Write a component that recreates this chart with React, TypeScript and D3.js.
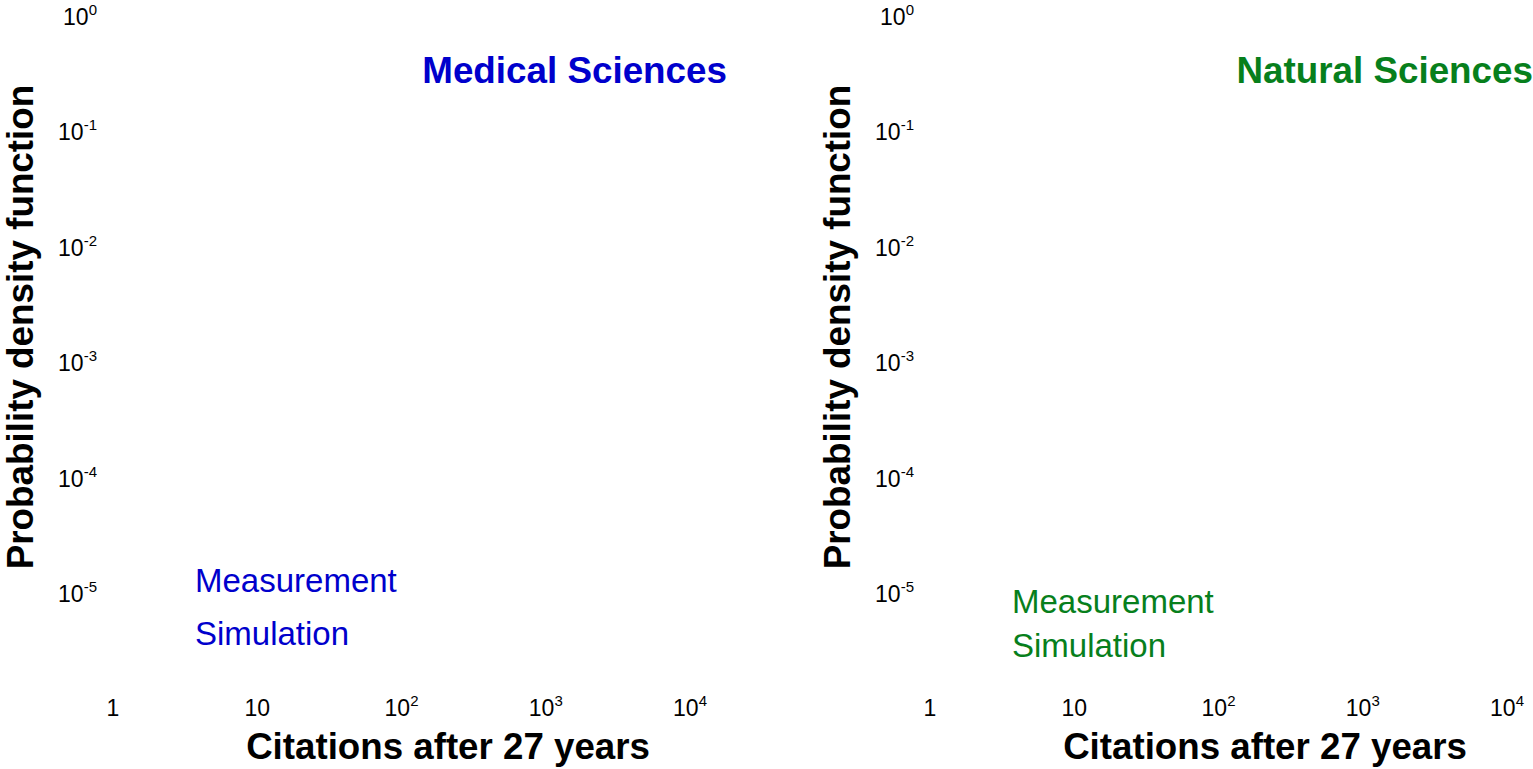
import React from "react";
import * as d3 from "d3";

const xTicks = [1, 10, 100, 1000, 10000];
const yTicks = [1, 1e-1, 1e-2, 1e-3, 1e-4, 1e-5];
const panelTitles = ["Medical Sciences", "Natural Sciences"];
const panelColors = ["#0000CC", "#077F1C"];
const legendLabels = ["Measurement", "Simulation"];
const xTitle = "Citations after 27 years";
const yTitle = "Probability density function";
// No visible data marks in the reference
const measurementSeries: [number, number][] = [];
const simulationSeries: [number, number][] = [];

const FONT = "'Liberation Sans', Arial, Helvetica, sans-serif";

type PanelCfg = { dx: number; titleRight: number; legendY: [number, number] };
const panelLayout: PanelCfg[] = [
  { dx: 0, titleRight: 727, legendY: [592, 645] },
  { dx: 817, titleRight: 1533, legendY: [613, 657] },
];

function TickLabel({ v, x, y, anchor, plainSmall }: { v: number; x: number; y: number; anchor: string; plainSmall: boolean }) {
  const e = Math.round(Math.log10(v));
  if (plainSmall && (e === 0 || e === 1)) {
    return (
      <text x={x} y={y} textAnchor={anchor} fontSize={23} fontFamily={FONT} fill="#000">
        {e === 0 ? "1" : "10"}
      </text>
    );
  }
  return (
    <text x={x} y={y} textAnchor={anchor} fontSize={23} fontFamily={FONT} fill="#000">
      10
      <tspan fontSize={15} dy={-10}>{String(e)}</tspan>
    </text>
  );
}

function Panel({ idx }: { idx: number }) {
  const cfg = panelLayout[idx];
  const x = d3.scaleLog().domain([1, 1e4]).range([113 + cfg.dx, 690 + cfg.dx]);
  const y = d3.scaleLog().domain([1e-5, 1]).range([594, 17]);
  const color = panelColors[idx];
  const line = d3
    .line<[number, number]>()
    .x((d) => x(d[0]))
    .y((d) => y(d[1]));
  return (
    <g>
      {yTicks.map((t) => (
        <TickLabel key={"y" + t} v={t} x={97 + cfg.dx} y={y(t) + 8} anchor="end" plainSmall={false} />
      ))}
      {xTicks.map((t) => (
        <TickLabel key={"x" + t} v={t} x={x(t)} y={716} anchor="middle" plainSmall={true} />
      ))}
      {measurementSeries.length > 0 && <path d={line(measurementSeries) || ""} fill="none" stroke={color} />}
      {simulationSeries.length > 0 && <path d={line(simulationSeries) || ""} fill="none" stroke={color} />}
      <text x={448 + cfg.dx} y={759} textAnchor="middle" fontSize={36.7} fontWeight="bold" fontFamily={FONT} fill="#000">
        {xTitle}
      </text>
      <text
        transform={`translate(${33 + cfg.dx},${327}) rotate(-90)`}
        textAnchor="middle"
        fontSize={36.8}
        fontWeight="bold"
        fontFamily={FONT}
        fill="#000"
      >
        {yTitle}
      </text>
      <text x={cfg.titleRight} y={83} textAnchor="end" fontSize={36.8} fontWeight="bold" fontFamily={FONT} fill={color}>
        {panelTitles[idx]}
      </text>
      {legendLabels.map((l, i) => (
        <text key={l} x={195 + cfg.dx} y={cfg.legendY[i]} fontSize={33} fontFamily={FONT} fill={color}>
          {l}
        </text>
      ))}
    </g>
  );
}

export default function App() {
  return (
    <svg
      width={1533}
      height={769}
      style={{ position: "absolute", left: 0, top: 0, background: "#fff" }}
    >
      <Panel idx={0} />
      <Panel idx={1} />
    </svg>
  );
}
